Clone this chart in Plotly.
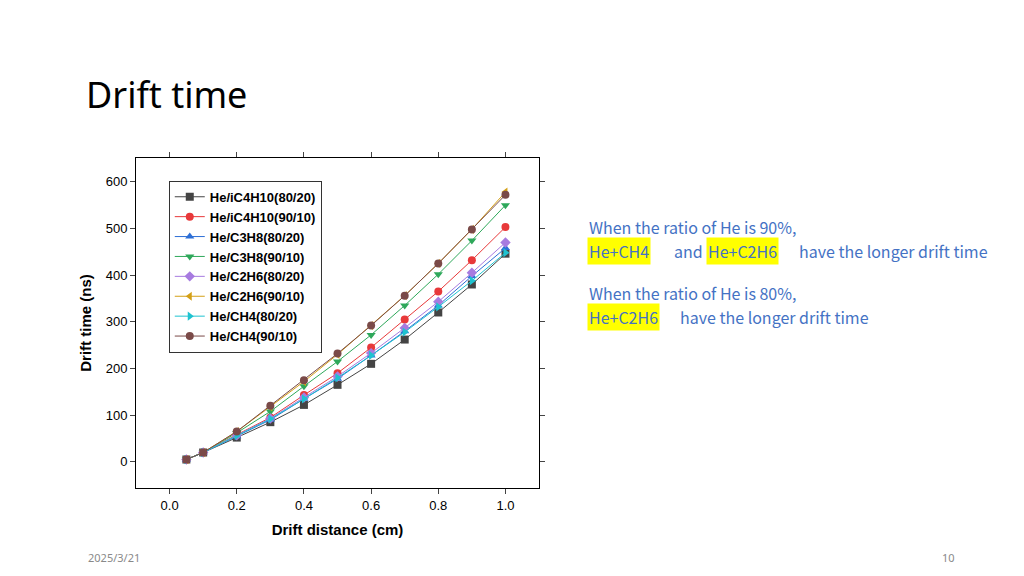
import plotly.graph_objects as go

x = [0.05, 0.1, 0.2, 0.3, 0.4, 0.5, 0.6, 0.7, 0.8, 0.9, 1.0]
names = ["He/iC4H10(80/20)", "He/iC4H10(90/10)", "He/C3H8(80/20)", "He/C3H8(90/10)",
         "He/C2H6(80/20)", "He/C2H6(90/10)", "He/CH4(80/20)", "He/CH4(90/10)"]
iC4H10_80 = [5, 20, 52, 85, 122, 165, 210, 262, 320, 380, 446]
iC4H10_90 = [5, 20, 58, 95, 143, 190, 245, 305, 365, 432, 503]
C3H8_80 = [5, 20, 55, 90, 135, 178, 228, 280, 335, 398, 458]
C3H8_90 = [5, 20, 62, 108, 162, 215, 272, 335, 402, 474, 550]
C2H6_80 = [5, 20, 57, 93, 138, 183, 233, 287, 343, 405, 470]
C2H6_90 = [5, 20, 65, 118, 172, 230, 292, 356, 425, 498, 578]
CH4_80 = [5, 20, 56, 92, 135, 180, 228, 278, 332, 388, 448]
CH4_90 = [5, 20, 65, 120, 175, 232, 292, 356, 425, 498, 572]
series = [iC4H10_80, iC4H10_90, C3H8_80, C3H8_90, C2H6_80, C2H6_90, CH4_80, CH4_90]
colors = ["#444444", "#e8393a", "#2d6fd6", "#2ea85a", "#a77be0", "#d4a017", "#1fc3d0", "#7a4a48"]
symbols = ["square", "circle", "triangle-up", "triangle-down", "diamond", "triangle-left", "triangle-right", "circle"]

fig = go.Figure()
for n, s, c, m in zip(names, series, colors, symbols):
    fig.add_trace(go.Scatter(x=x, y=s, name="<b>" + n + "</b>", mode="lines+markers",
                             line=dict(color=c, width=1), marker=dict(symbol=m, size=8, color=c)))

fig.update_layout(
    width=1024, height=576, margin=dict(l=0, r=0, t=0, b=0),
    paper_bgcolor="white", plot_bgcolor="white",
    font=dict(family="Liberation Sans", color="black"),
    xaxis=dict(domain=[0.125, 0.5186], range=[-0.1, 1.1], tickvals=[0, 0.2, 0.4, 0.6, 0.8, 1.0],
               ticktext=["0.0", "0.2", "0.4", "0.6", "0.8", "1.0"], ticks="outside", ticklen=5,
               showline=True, linecolor="black", mirror="ticks", showgrid=False, zeroline=False,
               automargin=False, tickfont=dict(size=13),
               title=dict(text="<b>Drift distance (cm)</b>", font=dict(size=15), standoff=12)),
    yaxis=dict(domain=[0.1667, 0.7396], range=[-56, 651], tickvals=[0, 100, 200, 300, 400, 500, 600],
               ticks="outside", ticklen=5, showline=True, linecolor="black", mirror="ticks",
               showgrid=False, zeroline=False, automargin=False, tickfont=dict(size=13),
               title=dict(text="<b>Drift time (ns)</b>", font=dict(size=15), standoff=10)),
    legend=dict(x=0.157, y=0.70, xanchor="left", yanchor="top", bordercolor="#333", borderwidth=1,
                bgcolor="white", font=dict(size=13), tracegroupgap=0),
)

blue = "#4472C4"
f = dict(family="Noto Sans CJK SC", size=16, color=blue)
def ann(text, px, py, bg=None, font=f):
    fig.add_annotation(text=text, x=px / 1024, y=1 - py / 576, xref="paper", yref="paper",
                       xanchor="left", yanchor="middle", showarrow=False, font=font,
                       bgcolor=bg, borderpad=1)

ann("Drift time", 76, 86, font=dict(family="Noto Sans", size=36, color="black"))
ann("When the ratio of He is 90%,", 579, 219)
ann("He+CH4", 579, 243, bg="#ffff00")
ann("and", 664, 243)
ann("He+C2H6", 698, 243, bg="#ffff00")
ann("have the longer drift time", 789, 243)
ann("When the ratio of He is 80%,", 579, 285)
ann("He+C2H6", 579, 309, bg="#ffff00")
ann("have the longer drift time", 670, 309)
ann("2025/3/21", 78, 549, font=dict(family="Noto Sans", size=11, color="#898989"))
ann("10", 932, 549, font=dict(family="Noto Sans", size=11, color="#898989"))

fig.write_html("out.html")
